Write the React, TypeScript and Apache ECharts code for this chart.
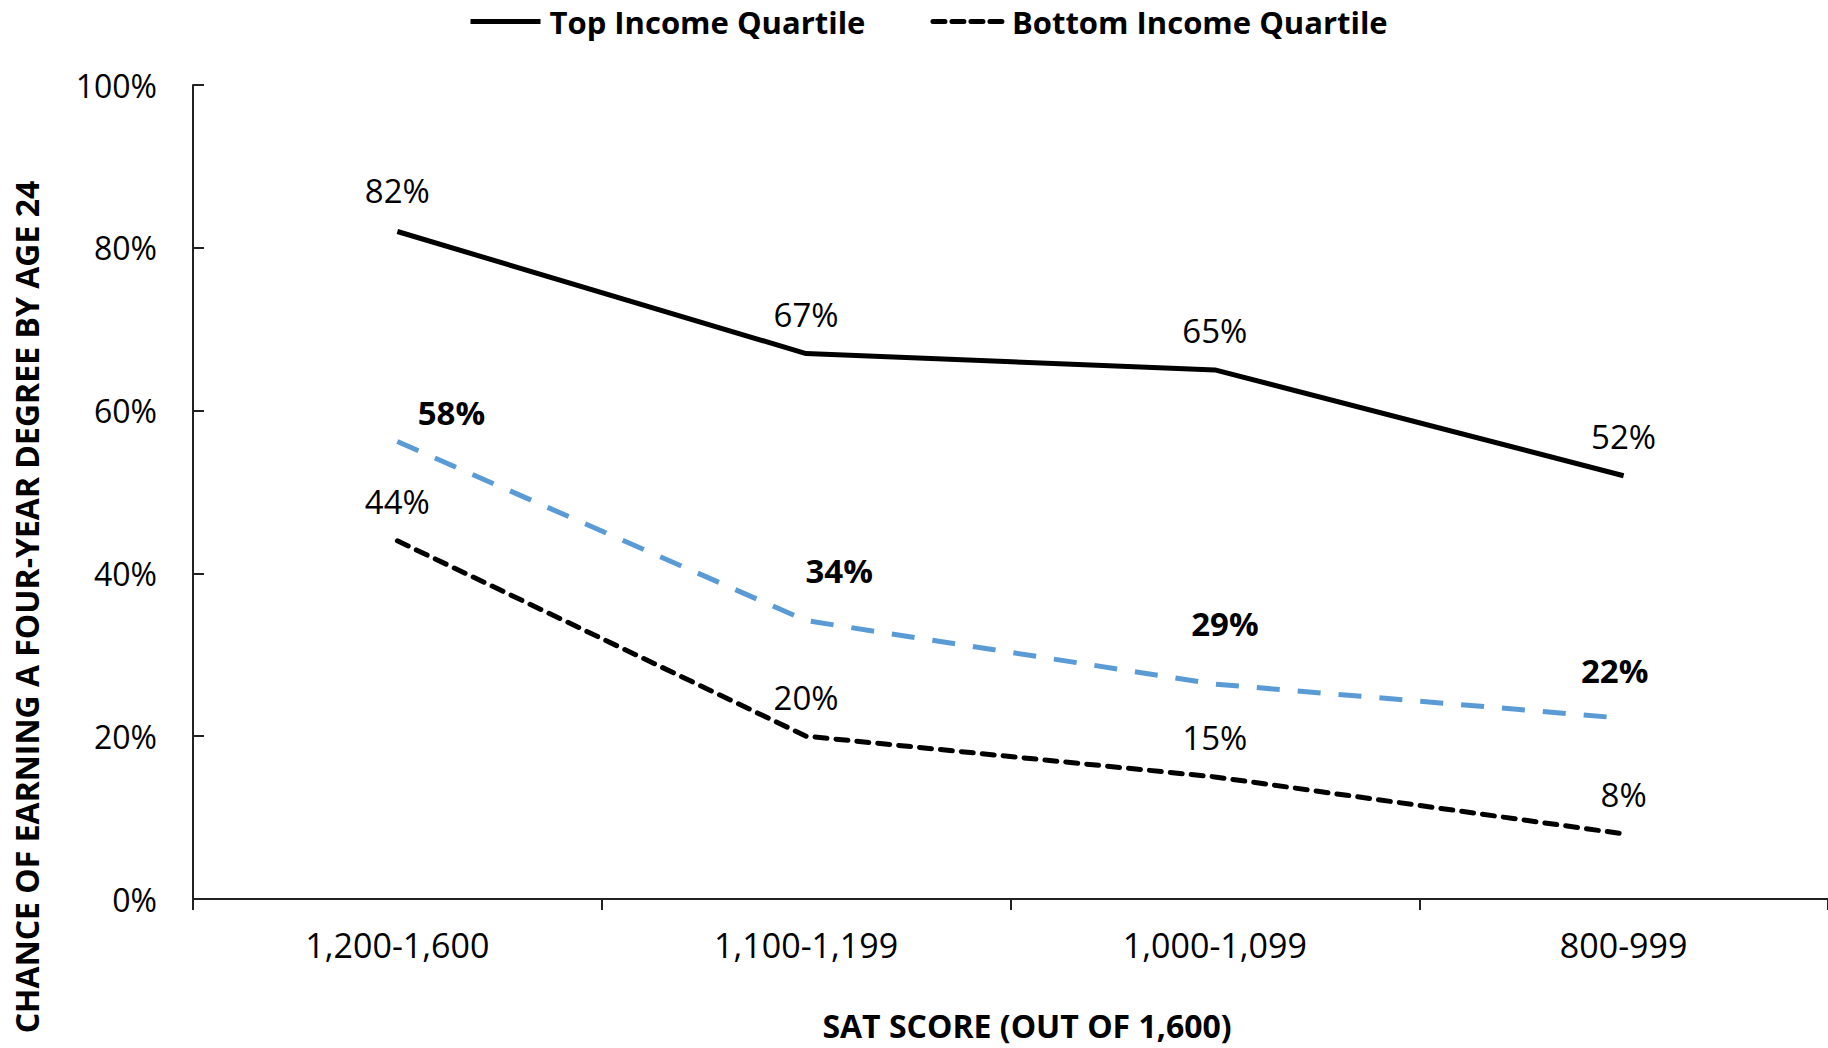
import React, { useEffect, useRef } from "react";
import * as echarts from "echarts";

const categories = ["1,200-1,600", "1,100-1,199", "1,000-1,099", "800-999"];
const topQuartile = [82, 67, 65, 52];
const bottomQuartile = [44, 20, 15, 8];
const projected = [56.2, 34.2, 26.4, 22.2];
const projectedLabels = ["58%", "34%", "29%", "22%"];
const yTicks = [0, 20, 40, 60, 80, 100];

const FONT = "Open Sans";

export default function App() {
  const ref = useRef<HTMLDivElement>(null);
  useEffect(() => {
    document.body.style.margin = "0";
    const chart = echarts.init(ref.current!, undefined, { renderer: "svg" });
    const blueOffsets = [
      [54, -29],
      [33, -50],
      [10, -61],
      [-9, -48],
    ];
    const labelSeries = (
      name: string,
      values: number[],
      texts: string[],
      offsets: number[][],
      bold: boolean
    ) => ({
      name,
      type: "scatter",
      data: values.map((v, i) => ({
        value: v,
        label: { offset: offsets[i], formatter: texts[i] },
      })),
      symbol: "circle",
      symbolSize: 0,
      itemStyle: { color: "#000" },
      silent: true,
      z: 5,
      label: {
        show: true,
        position: "inside",
        fontFamily: FONT,
        fontWeight: bold ? "bold" : "normal",
        fontSize: 33,
        color: "#000",
        textBorderWidth: 0,
        opacity: 1,
      },
    });
    chart.setOption({
      animation: false,
      backgroundColor: "#ffffff",
      legend: {
        data: [
          { name: "Top Income Quartile", lineStyle: { width: 5 }, itemStyle: { opacity: 0 } },
          {
            name: "Bottom Income Quartile",
            lineStyle: { width: 5, type: [12, 7] },
            itemStyle: { opacity: 0 },
          },
        ],
        left: 468,
        top: 6,
        padding: 0,
        itemWidth: 70,
        itemHeight: 28,
        itemGap: 65,
        textStyle: { fontFamily: FONT, fontWeight: "bold", fontSize: 31, color: "#000", padding: [0, 0, 0, 4] },
      },
      grid: { left: 193, right: 0, top: 85, bottom: 149, containLabel: false },
      xAxis: {
        type: "category",
        data: categories,
        boundaryGap: true,
        axisLine: { lineStyle: { color: "#222", width: 2 } },
        axisTick: { show: true, length: 11, inside: false, lineStyle: { color: "#222", width: 2 } },
        axisLabel: { fontFamily: FONT, fontSize: 34, color: "#000", margin: 29 },
      },
      yAxis: {
        type: "value",
        min: 0,
        max: 100,
        interval: 20,
        axisLine: { show: true, lineStyle: { color: "#222", width: 2 } },
        axisTick: { show: true, inside: true, length: 11, lineStyle: { color: "#222", width: 2 } },
        splitLine: { show: false },
        axisLabel: {
          fontFamily: FONT,
          fontSize: 32,
          color: "#000",
          margin: 36,
          formatter: (v: number) => (yTicks.includes(v) ? v + "%" : ""),
        },
      },
      graphic: [
        {
          type: "text",
          x: 26,
          y: 607,
          rotation: Math.PI / 2,
          style: {
            text: "CHANCE OF EARNING A FOUR-YEAR DEGREE BY AGE 24",
            fontFamily: FONT,
            fontWeight: "bold",
            fontSize: 32,
            fill: "#000",
            align: "center",
            verticalAlign: "middle",
          },
        },
        {
          type: "text",
          x: 1027,
          y: 1025,
          style: {
            text: "SAT SCORE (OUT OF 1,600)",
            fontFamily: FONT,
            fontWeight: "bold",
            fontSize: 32,
            fill: "#000",
            align: "center",
            verticalAlign: "middle",
          },
        },
      ],
      series: [
        {
          name: "Top Income Quartile",
          type: "line",
          data: topQuartile,
          symbol: "circle",
          showSymbol: false,
          itemStyle: { color: "#000", opacity: 0 },
          lineStyle: { color: "#000", width: 5, type: "solid", opacity: 1 },
        },
        {
          name: "Bottom Income Quartile",
          type: "line",
          data: bottomQuartile,
          symbol: "circle",
          showSymbol: false,
          itemStyle: { color: "#000", opacity: 0 },
          lineStyle: { color: "#000", width: 5, type: [12, 9], cap: "round", opacity: 1 },
        },
        {
          name: "Projected",
          type: "line",
          data: projected,
          symbol: "circle",
          showSymbol: false,
          itemStyle: { color: "#5B9BD5", opacity: 0 },
          lineStyle: { color: "#5B9BD5", width: 5, type: [23, 18], opacity: 1 },
        },
        labelSeries(
          "topLabels",
          topQuartile,
          topQuartile.map((v) => v + "%"),
          topQuartile.map((_, i) => [0, i === 0 ? -41 : -39]),
          false
        ),
        labelSeries(
          "bottomLabels",
          bottomQuartile,
          bottomQuartile.map((v) => v + "%"),
          bottomQuartile.map(() => [0, -39]),
          false
        ),
        labelSeries("projectedLabels", projected, projectedLabels, blueOffsets, true),
      ],
    });
    return () => chart.dispose();
  }, []);
  return <div ref={ref} style={{ width: 1828, height: 1048 }} />;
}
